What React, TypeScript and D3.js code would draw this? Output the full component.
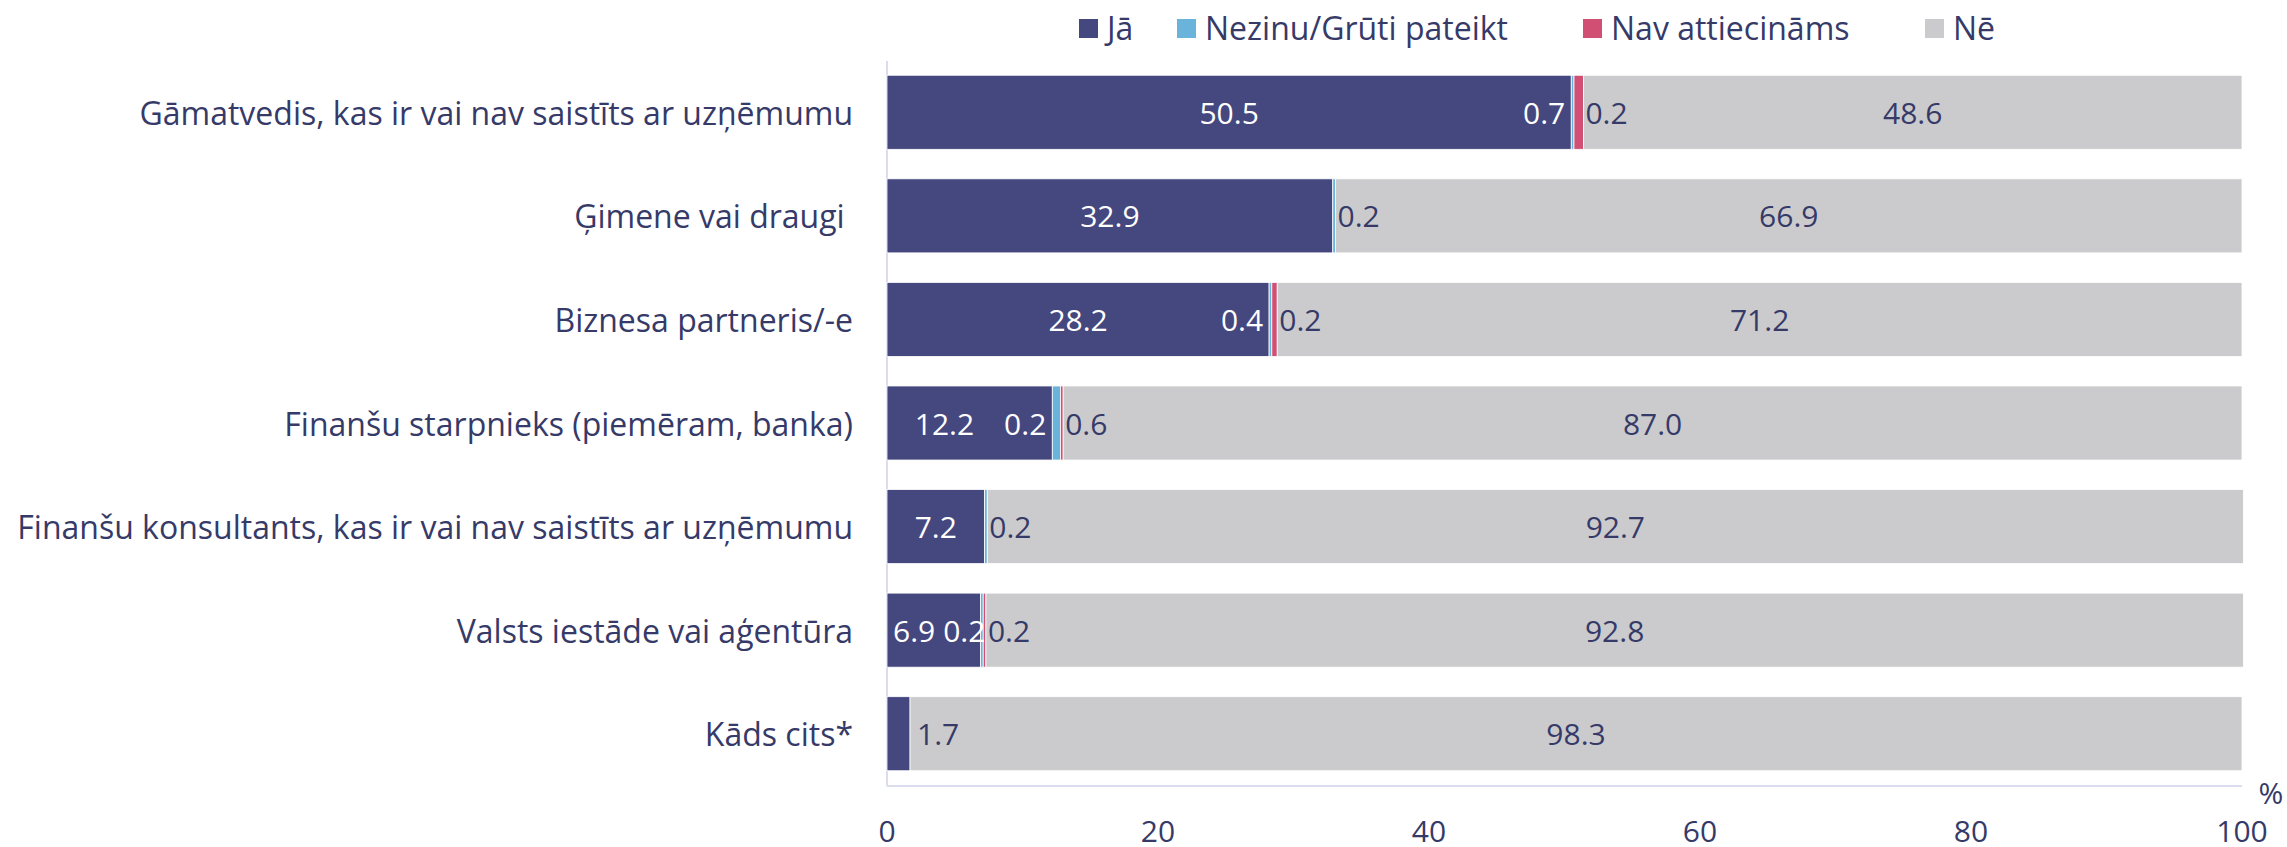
import React, { useEffect, useRef } from "react";
import * as d3 from "d3";

const categories = [
  "Gāmatvedis, kas ir vai nav saistīts ar uzņēmumu",
  "Ģimene vai draugi ",
  "Biznesa partneris/-e",
  "Finanšu starpnieks (piemēram, banka)",
  "Finanšu konsultants, kas ir vai nav saistīts ar uzņēmumu",
  "Valsts iestāde vai aģentūra",
  "Kāds cits*",
];
const ja = [50.5, 32.9, 28.2, 12.2, 7.2, 6.9, 1.7];
const nezinu = [0.2, 0.2, 0.2, 0.6, 0.2, 0.2, 0];
const nav = [0.7, 0, 0.4, 0.2, 0, 0.2, 0];
const ne = [48.6, 66.9, 71.2, 87.0, 92.7, 92.8, 98.3];
const seriesNames = ["Jā", "Nezinu/Grūti pateikt", "Nav attiecināms", "Nē"];
const xTicks = [0, 20, 40, 60, 80, 100];

const W = 2287;
const H = 847;
const colors = ["#45487f", "#6ab4dc", "#d24f74", "#cbcbcd"];
const textColor = "#363a68";
const axisColor = "#dcdcef";
const font = "'Open Sans', 'Noto Sans', sans-serif";

const Chart = () => {
  const ref = useRef<SVGSVGElement>(null);

  useEffect(() => {
    if (!ref.current) return;
    const svg = d3.select(ref.current);
    svg.selectAll("*").remove();

    const x = d3.scaleLinear().domain([0, 100]).range([887, 2242]);
    const y = d3.scaleBand().domain(categories).range([60.5, 785.5]).paddingInner(0.285).paddingOuter(0.1425);

    // axis lines
    svg.append("line")
      .attr("x1", x(0)).attr("x2", x(0))
      .attr("y1", 61).attr("y2", 786)
      .attr("stroke", axisColor).attr("stroke-width", 2);
    svg.append("line")
      .attr("x1", x(0)).attr("x2", x(100))
      .attr("y1", 786).attr("y2", 786)
      .attr("stroke", axisColor).attr("stroke-width", 2);

    // stacked bars
    const rows = categories.map((c, i) => {
      const vals = [ja[i], nezinu[i], nav[i], ne[i]];
      let acc = 0;
      const segs = vals.map((v, k) => {
        const s = { key: k, v, x0: acc, x1: acc + v };
        acc += v;
        return s;
      });
      return { c, segs };
    });

    const g = svg.append("g");
    rows.forEach((r) => {
      g.selectAll(null)
        .data(r.segs.filter((s) => s.v > 0))
        .enter()
        .append("rect")
        .attr("x", (s) => x(s.x0))
        .attr("width", (s) => x(s.x1) - x(s.x0))
        .attr("y", y(r.c)!)
        .attr("height", y.bandwidth())
        .attr("fill", (s) => colors[s.key])
        .attr("stroke", "#fff")
        .attr("stroke-width", 0.8);
    });

    // value labels
    const fmt = d3.format(".1f");
    const lbl = svg.append("g").attr("font-family", font).attr("font-size", 30);
    const addText = (t: string, cx: number, cy: number, anchor: string, fill: string) =>
      lbl.append("text")
        .attr("x", cx).attr("y", cy)
        .attr("text-anchor", anchor)
        .attr("dominant-baseline", "central")
        .attr("fill", fill)
        .text(t);

    rows.forEach((r) => {
      const cy = y(r.c)! + y.bandwidth() / 2;
      const [sJa, sNez, sNav, sNe] = r.segs;

      // Jā label
      const jaT = addText(fmt(sJa.v), 0, cy, "start", "#fff");
      const jaW = (jaT.node() as SVGTextElement).getComputedTextLength();
      const jaStart = x(sJa.x0);
      const jaEnd = x(sJa.x1);
      let jaLeft: number;
      if (jaEnd - jaStart < jaW + 12) {
        jaLeft = jaEnd + 7;
        jaT.attr("fill", textColor);
      } else {
        jaLeft = (jaStart + jaEnd) / 2 - jaW / 2;
      }

      // Nav label sits inside the end of Jā
      if (sNav.v > 0) {
        const navT = addText(fmt(sNav.v), 0, cy, "start", "#fff");
        const navW = (navT.node() as SVGTextElement).getComputedTextLength();
        let navLeft = jaEnd - 6 - navW;
        if (jaLeft + jaW > navLeft - 30) {
          jaLeft = Math.max(jaStart + 6, navLeft - 30 - jaW);
        }
        if (jaLeft + jaW > navLeft - 8) navLeft = jaLeft + jaW + 8;
        navT.attr("x", navLeft);
      }
      jaT.attr("x", jaLeft);

      // Nezinu label after the small segments
      if (sNez.v > 0) {
        addText(fmt(sNez.v), x(sNav.x1) + 2, cy, "start", textColor);
      }

      // Nē label centred
      addText(fmt(sNe.v), (x(sNe.x0) + x(sNe.x1)) / 2, cy, "middle", textColor);
    });

    // category labels
    svg.append("g")
      .selectAll("text")
      .data(categories)
      .enter()
      .append("text")
      .attr("x", 853)
      .attr("y", (c) => y(c)! + y.bandwidth() / 2)
      .attr("text-anchor", "end")
      .attr("dominant-baseline", "central")
      .attr("font-family", font)
      .attr("font-size", 32)
      .attr("fill", textColor)
      .style("white-space", "pre")
      .text((c) => c);

    // x tick labels
    svg.append("g")
      .selectAll("text")
      .data(xTicks)
      .enter()
      .append("text")
      .attr("x", (d) => x(d))
      .attr("y", 830)
      .attr("text-anchor", "middle")
      .attr("dominant-baseline", "central")
      .attr("font-family", font)
      .attr("font-size", 30)
      .attr("fill", textColor)
      .text((d) => String(d));

    svg.append("text")
      .attr("x", 2271)
      .attr("y", 792)
      .attr("text-anchor", "middle")
      .attr("dominant-baseline", "central")
      .attr("font-family", font)
      .attr("font-size", 30)
      .attr("fill", textColor)
      .text("%");

    // legend
    const legendX = [1079, 1177, 1583, 1925];
    const leg = svg.append("g");
    seriesNames.forEach((n, i) => {
      leg.append("rect")
        .attr("x", legendX[i]).attr("y", 19)
        .attr("width", 19).attr("height", 19)
        .attr("fill", colors[i]);
      leg.append("text")
        .attr("x", legendX[i] + 28)
        .attr("y", 27)
        .attr("dominant-baseline", "central")
        .attr("font-family", font)
        .attr("font-size", 32)
        .attr("fill", textColor)
        .text(n);
    });
  }, []);

  return (
    <svg
      ref={ref}
      width={W}
      height={H}
      style={{ position: "absolute", left: 0, top: 0, background: "#fff" }}
    ></svg>
  );
};

export default function App() {
  return <Chart />;
}
